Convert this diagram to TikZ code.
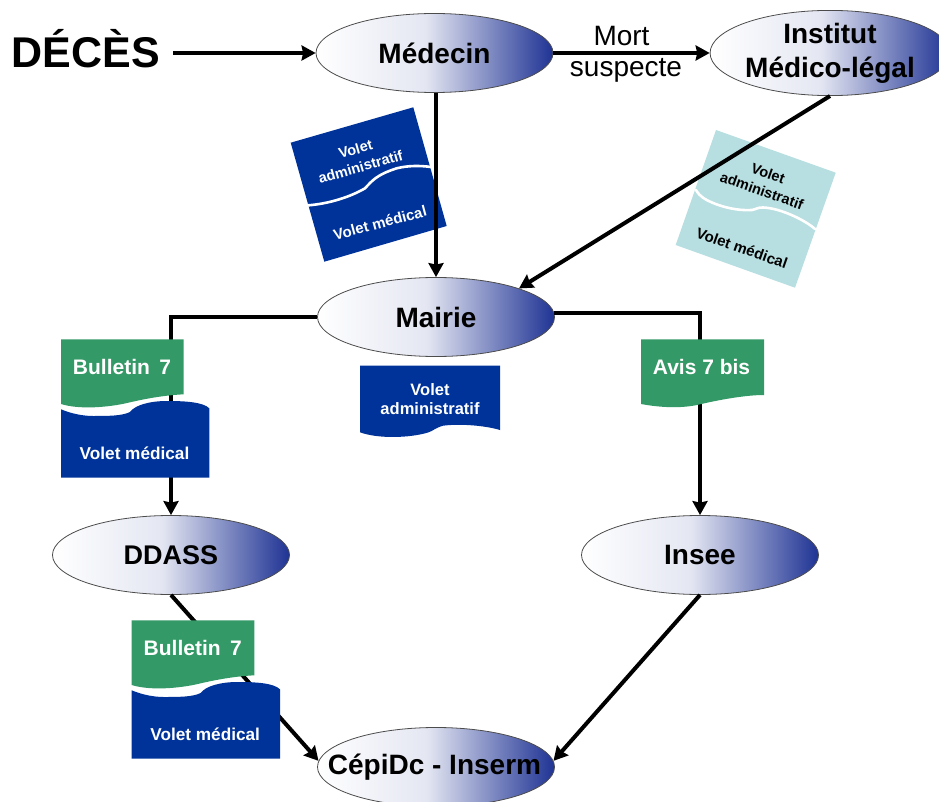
\documentclass[tikz,border=0pt]{standalone}
\usepackage{fontspec}
\setmainfont{Liberation Sans}
\usetikzlibrary{shapes.geometric,arrows.meta}
\definecolor{docblue}{HTML}{003399}
\definecolor{docgreen}{HTML}{339966}
\definecolor{doclight}{HTML}{B7DEE0}
\definecolor{ovalblue}{HTML}{1F3394}
\pgfdeclarehorizontalshading{ovalshade}{100bp}{color(0bp)=(white); color(25bp)=(white); color(48bp)=(white!88!ovalblue); color(75bp)=(ovalblue); color(100bp)=(ovalblue)}
\newcommand{\fsz}[1]{\fontsize{#1}{#1}\selectfont}
\tikzset{
  oval/.style={ellipse,draw=black!70,line width=0.8pt,shading=ovalshade,minimum width=237pt,minimum height=79pt,inner sep=0pt,font=\fsz{28}\bfseries,align=center},
  conn/.style={line width=4pt,draw=black,-{Stealth[length=14pt,width=15pt,inset=1.5pt]}},
  lbl/.style={font=\fsz{28},inner sep=0pt},
  volet/.style={font=\fsz{15}\bfseries,text=white,inner sep=0pt,align=center},
  voletdark/.style={font=\fsz{15}\bfseries,text=black,inner sep=0pt,align=center},
  bull/.style={font=\fsz{21}\bfseries,text=white,inner sep=0pt},
  wave/.style={draw=white,line width=2.6pt,line cap=round}
}
\begin{document}
\begin{tikzpicture}[x=1pt,y=-1pt]
\useasboundingbox (0,0) rectangle (939,802);
\fill[white] (0,0) rectangle (939,802);
% rotated documents under the connectors
\fill[docblue] (290.7,142.7) -- (413.3,107.3) -- (446.7,226) -- (324.3,261.7) -- cycle;
\draw[wave] (306,205.5) .. controls (330,204) and (352,196) .. (365,188.3) .. controls (372,181) and (376,175) .. (396.7,168.3) .. controls (408,165.5) and (420,165.5) .. (431,167);
\node[volet,rotate=16,font=\fsz{14.5}\bfseries] (va1) at (358,158) {Volet\\[4pt]administratif};
\node[volet,rotate=15] (vm1) at (380,223) {Volet médical};
\fill[doclight] (716,130) -- (835.7,172.7) -- (795,287.7) -- (675.7,245) -- cycle;
\draw[wave] (696,190) .. controls (700,197) and (706,200) .. (712,202.5) .. controls (722,207) and (738,211) .. (752,210) .. controls (757,209) and (757,207.5) .. (763,207.5) .. controls (780,208) and (805,220) .. (815,229);
\node[voletdark,rotate=-19.5,font=\fsz{14.5}\bfseries] (va2) at (765,182) {Volet\\[4pt]administratif};
\node[voletdark,rotate=-19.5] (vm2) at (742,248) {Volet médical};
% ovals
\node[font=\fsz{43}\bfseries,inner sep=0pt] (deces) at (86,49) {DÉCÈS};
\node[oval] (med) at (434.5,53) {Médecin};
\node[oval,minimum width=236pt] (inst) at (830,53) {\raisebox{-3pt}{Institut}\\[6pt]\raisebox{-3pt}{Médico-légal}};
\node[oval] (mairie) at (436,317) {Mairie};
\node[oval,font=\fsz{27}\bfseries] (ddass) at (171,555) {DDASS};
\node[oval] (insee) at (700,555) {Insee};
\node[oval] (cepi) at (436,767) {\makebox[150pt]{\hspace{-3pt}\raisebox{-1pt}{CépiDc - Inserm}}};
% connectors
\draw[conn] ([xshift=13pt]deces.east |- med.west) -- (med.west);
\draw[conn] (med.east) -- (inst.west);
\draw[conn] (mairie.north |- med.south) -- (mairie.north);
\draw[conn] (inst.south) -- (mairie.19);
\draw[conn] (mairie.west) -| (ddass.north);
\draw[conn] (mairie.2) -| (insee.north);
\draw[conn] (ddass.south) -- (cepi.177);
\draw[conn] (insee.south) -- (cepi.3);
% labels
\node[lbl] (mort) at (621.5,36) {Mort};
\node[lbl] (susp) at (626,70) {suspecte};
% Bulletin + volet medical (twice)
\foreach \dx/\dy/\nm in {0/0/a,70.7/281/b}{
  \begin{scope}[shift={(\dx,\dy)}]
  \fill[docblue] (61,409.3) .. controls (72,414) and (84,416) .. (93,416) .. controls (108,416) and (122,416) .. (130,412) .. controls (135,405) and (150,401) .. (167,401) .. controls (185,401) and (203,402) .. (209.3,408.3) -- (209.3,477.7) -- (61,477.7) -- cycle;
  \fill[docgreen] (61,339.3) -- (183.7,339.3) -- (183.7,394.3) .. controls (160,395.5) and (140,400) .. (127,403) .. controls (110,407) and (80,410) .. (61,404) -- cycle;
  \node[bull] (bull\nm) at (122,367) {Bulletin\, 7};
  \node[volet,font=\fsz{17.2}\bfseries] (med\nm) at (134.5,453) {Volet médical};
  \end{scope}
}
% Volet administratif under Mairie
\fill[docblue] (360,365.7) -- (500,365.7) -- (500,430) .. controls (485,425.5) and (460,423.5) .. (443,425.7) .. controls (435,428) and (433,431) .. (428,432.5) .. controls (410,438) and (378,439) .. (360,432.3) -- cycle;
\node[volet,font=\fsz{16.5}\bfseries] (va3) at (430,399) {Volet\\[3pt]administratif};
% Avis 7 bis
\fill[docgreen] (641,339.3) -- (764,339.3) -- (764,395) .. controls (745,395) and (718,400) .. (697,405) .. controls (680,408.5) and (660,407.5) .. (641,404) -- cycle;
\node[bull] (avis) at (701.5,367) {Avis 7 bis};
\end{tikzpicture}
\end{document}
